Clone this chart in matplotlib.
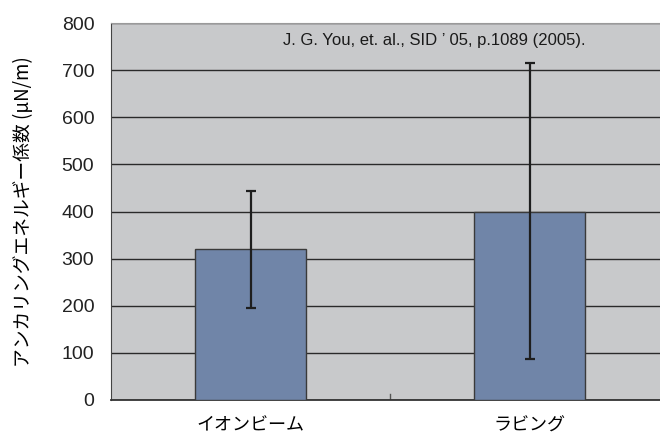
import matplotlib
matplotlib.use("Agg")
import matplotlib.pyplot as plt

# data
categories = ["イオンビーム", "ラビング"]
values = [320, 400]
err_low = [125, 313]   # 320-195, 400-87
err_high = [123, 315]  # 443-320, 715-400
note = "J. G. You, et. al., SID \u2019 05, p.1089 (2005)."
ylabel = "アンカリングエネルギー係数 (μN/m)"

JP = ["Noto Sans CJK JP", "DejaVu Sans"]
plt.rcParams["font.family"] = ["Liberation Sans", "Noto Sans CJK JP", "DejaVu Sans"]

fig = plt.figure(figsize=(6.6, 4.34), dpi=100)
W, H = 660, 434
ax = fig.add_axes([111 / W, 1 - 400 / H, (660 - 111) / W, (400 - 23) / H])
ax.set_facecolor("#c8c9cb")

x = range(len(categories))
ax.bar(x, values, width=0.4, color="#7085a8", edgecolor="#3a3a3a", linewidth=1.0, zorder=3)
ax.errorbar(x, values, yerr=[err_low, err_high], fmt="none", ecolor="#1e1e1e",
            elinewidth=1.6, capsize=3.5, capthick=1.6, zorder=4)

ax.set_xlim(-0.5, -0.5 + 2 * 549 / 558)
ax.set_ylim(0, 800)
ax.set_yticks(range(0, 801, 100))
ax.yaxis.grid(True, color="#2a2a2a", linewidth=1.0, zorder=1)
ax.set_axisbelow(True)

ax.set_xticks(list(x))
ax.set_xticklabels(categories, family=JP, fontsize=13)
ax.tick_params(axis="x", length=0, pad=12)
ax.tick_params(axis="y", length=0, pad=12, labelsize=14)
for lbl in ax.get_yticklabels():
    lbl.set_color("#222222")

# category boundary tick
ax.axvline(0.5, ymin=0, ymax=6 / 377, color="#555555", linewidth=1.0, zorder=2)

ax.spines["right"].set_visible(False)
ax.spines["top"].set_color("#9a9a9a")
ax.spines["left"].set_color("#444444")
ax.spines["bottom"].set_color("#333333")
ax.spines["bottom"].set_linewidth(1.3)

ax.set_ylabel(ylabel, family=JP, fontsize=13.5)
ax.yaxis.set_label_coords(-(111 - 34) / 549, 0.5)

fig.text(283 / W, 1 - 40 / H, note, fontsize=12, va="center", ha="left", color="#1a1a1a")

fig.savefig("out.png", dpi=100)
